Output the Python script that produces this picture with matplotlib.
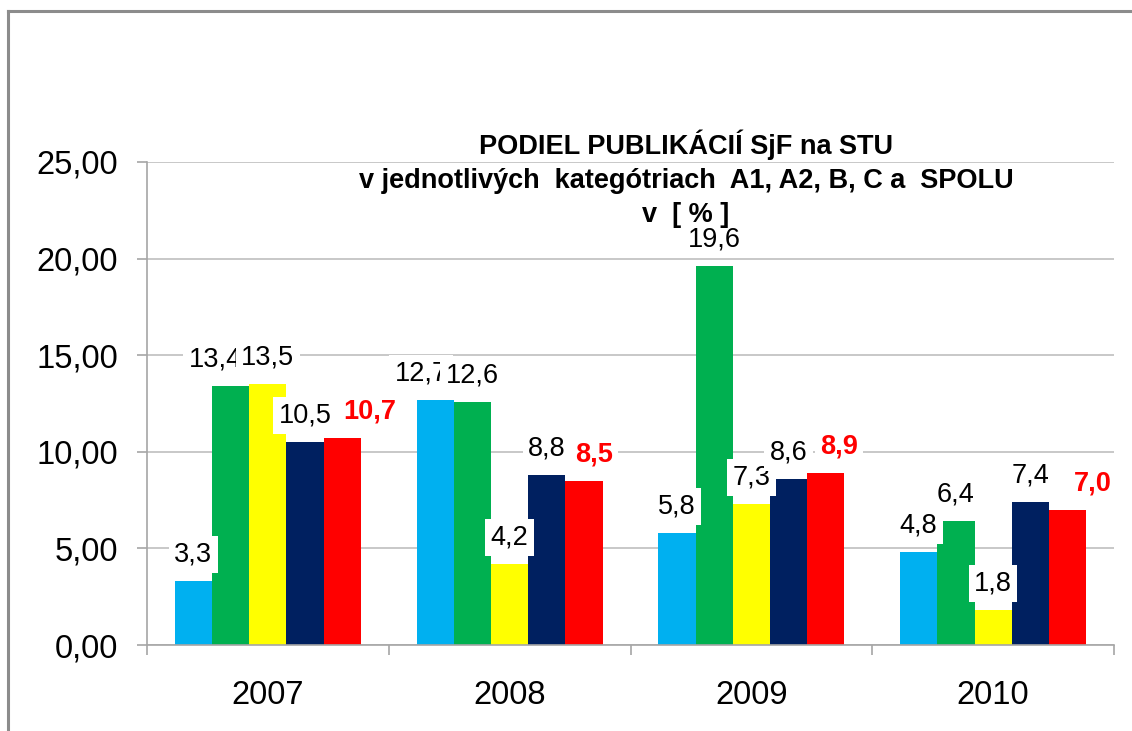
import matplotlib
matplotlib.use('Agg')
import matplotlib.pyplot as plt
from matplotlib.lines import Line2D
import numpy as np

plt.rcParams['font.family'] = ['Liberation Sans', 'DejaVu Sans']

years = ['2007', '2008', '2009', '2010']
A1 = [3.3, 12.7, 5.8, 4.8]
A2 = [13.4, 12.6, 19.6, 6.4]
B = [13.5, 4.2, 7.3, 1.8]
C = [10.5, 8.8, 8.6, 7.4]
SPOLU = [10.7, 8.5, 8.9, 7.0]

series = [A1, A2, B, C, SPOLU]
colors = ['#00B0F0', '#00B050', '#FFFF00', '#002060', '#FF0000']

# labels that were moved sideways by hand in the original (series, year) -> points
nudge = {(1, 0): -11, (4, 0): 19.5, (0, 1): -10, (4, 1): 7, (4, 2): 9.5, (4, 3): 18}

fig = plt.figure(figsize=(11.32, 7.31), dpi=100)
ax = fig.add_axes([147 / 1132, 86 / 731, 967 / 1132, 483 / 731])

x = np.arange(len(years))
w = 0.154

for i, vals in enumerate(series):
    ax.bar(x + (i - 2) * w, vals, width=w, color=colors[i], zorder=2)

# data labels, drawn series by series so later boxes cover earlier ones
for i, vals in enumerate(series):
    red = (i == 4)
    for j, v in enumerate(vals):
        ax.annotate(f'{v:.1f}'.replace('.', ','), (x[j] + (i - 2) * w, v),
                    xytext=(nudge.get((i, j), 0), 19), textcoords='offset points',
                    ha='center', va='center', fontsize=19.5,
                    color='#FF0000' if red else 'black',
                    fontweight='bold' if red else 'normal',
                    bbox=dict(boxstyle='square,pad=0.2', fc='white', ec='none'),
                    zorder=5)

ax.set_xlim(-0.5, 3.5)
ax.set_ylim(0, 25)
ax.set_yticks(range(0, 26, 5))
ax.set_yticklabels([f'{t:.2f}'.replace('.', ',') for t in range(0, 26, 5)])
ax.set_xticks(x)
ax.set_xticklabels(years)
ax.set_xticks(np.arange(-0.5, 4, 1), minor=True)

ax.yaxis.grid(True, color='#BFBFBF', linewidth=1.2, zorder=0)
ax.set_axisbelow(True)
for s in ['top', 'right']:
    ax.spines[s].set_visible(False)
for s in ['left', 'bottom']:
    ax.spines[s].set_color('#A6A6A6')
    ax.spines[s].set_linewidth(1.2)

ax.tick_params(axis='y', direction='out', length=7, width=1.2, color='#A6A6A6',
               labelsize=23.5, pad=14)
ax.tick_params(axis='x', which='major', length=0, labelsize=23.5, pad=25)
ax.tick_params(axis='x', which='minor', direction='out', length=7, width=1.2,
               color='#A6A6A6')

# title lines
title = ['PODIEL PUBLIKÁCIÍ SjF na STU',
         'v jednotlivých  kategótriach  A1, A2, B, C a  SPOLU',
         'v  [ % ]']
ty = [154, 188, 222]
for t, yy in zip(title, ty):
    fig.text(686 / 1132, 1 - yy / 731, t, ha='center', va='baseline',
             fontsize=19.5, fontweight='bold')

# outer chart frame
fig.add_artist(Line2D([8 / 1132, 1], [1 - 11 / 731, 1 - 11 / 731],
                      color='#8C8C8C', linewidth=2.2))
fig.add_artist(Line2D([8 / 1132, 8 / 1132], [0, 1 - 11 / 731],
                      color='#8C8C8C', linewidth=2.2))

fig.savefig('out.png', dpi=100)
